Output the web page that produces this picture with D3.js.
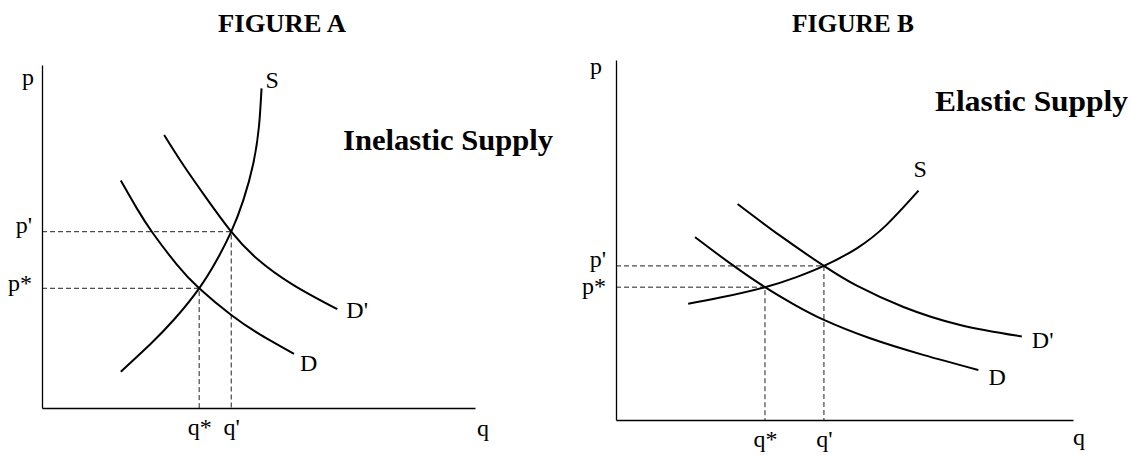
<!DOCTYPE html>
<html>
<head>
<meta charset="utf-8">
<script src="https://cdn.jsdelivr.net/npm/d3@7"></script>
<style>
  body { margin: 0; background: #fff; }
  svg text { font-family: "Liberation Serif", "Times New Roman", serif; fill: #000; }
</style>
</head>
<body>
<div id="chart"></div>
<script>
// Figure A - inelastic supply (q, p in axis units 0..100)
const supplyA  = [[18.2,10.6],[25.0,18.6],[30.5,25.8],[36.3,34.9],[40.4,43.2],[43.7,51.4],[46.5,60.6],[48.8,71.3],[50.1,82.0],[50.7,93.2]];
const demandA  = [[18.2,66.3],[21.9,58.2],[25.7,50.8],[31.1,41.9],[36.3,34.9],[43.7,27.1],[50.4,21.4],[58.2,15.8]];
const demand2A = [[28.2,79.6],[32.6,70.9],[38.0,61.1],[43.7,51.4],[49.6,43.6],[58.0,35.9],[68.2,28.8]];
const eqA = [[36.3,34.9],[43.7,51.4]];   // (q*,p*), (q',p')

// Figure B - elastic supply
const supplyB  = [[15.8,32.3],[22.8,34.0],[32.6,36.9],[39.5,39.7],[45.5,42.8],[52.7,47.7],[59.2,54.2],[66.2,63.7]];
const demandB  = [[17.3,50.8],[25.0,43.5],[32.6,36.9],[38.8,32.2],[45.5,27.8],[55.6,22.7],[67.2,18.1],[79.3,13.9]];
const demand2B = [[26.6,60.0],[35.9,51.2],[45.5,42.8],[52.7,37.3],[62.9,31.4],[75.3,26.4],[88.8,23.2]];
const eqB = [[32.6,36.9],[45.5,42.8]];

const pLabels = ["p*", "p'"];
const qLabels = ["q*", "q'"];

const width = 1131, height = 455;
const svg = d3.select("#chart").append("svg")
    .attr("width", width)
    .attr("height", height);

const panels = [
    {title: "FIGURE A", note: "Inelastic Supply", S: supplyA, D: demandA, D2: demand2A, eq: eqA,
     x: [42, 475], y: [408, 65], titleX: 282, titleW: 128, noteX: 343, noteY: 150, noteW: 210,
     pAxis: [-14, 20], qAxis: [8, 28], pDy: [2, 1],
     labs: {S: [4, 0], D: [6, 17], "D'": [9, 9]}},
    {title: "FIGURE B", note: "Elastic Supply", S: supplyB, D: demandB, D2: demand2B, eq: eqB,
     x: [616, 1073], y: [420, 60], titleX: 853, titleW: 122, noteX: 935, noteY: 111, noteW: 193,
     pAxis: [-20, 14], qAxis: [6, 25], pDy: [6, 1],
     labs: {S: [-5, -14], D: [10, 15], "D'": [10, 12]}}
];

panels.forEach(cfg => {
    const x = d3.scaleLinear().domain([0, 100]).range(cfg.x);
    const y = d3.scaleLinear().domain([0, 100]).range(cfg.y);
    const g = svg.append("g");

    g.append("text")
        .attr("x", cfg.titleX - cfg.titleW / 2).attr("y", 32)
        .attr("textLength", cfg.titleW).attr("lengthAdjust", "spacingAndGlyphs")
        .style("font-size", "25px").style("font-weight", "bold")
        .text(cfg.title);

    g.append("text")
        .attr("x", cfg.noteX).attr("y", cfg.noteY)
        .attr("textLength", cfg.noteW).attr("lengthAdjust", "spacingAndGlyphs")
        .style("font-size", "29px").style("font-weight", "bold")
        .text(cfg.note);

    // dashed guides to the equilibria
    cfg.eq.forEach(d => {
        g.append("path")
            .attr("d", `M${x(0)},${y(d[1])}H${x(d[0])}V${y(0)}`)
            .attr("fill", "none")
            .attr("stroke", "#222")
            .attr("stroke-width", 1)
            .attr("stroke-dasharray", "5,3");
    });

    // axes
    const yAxis = g.append("g")
        .attr("transform", `translate(${x(0)},0)`)
        .call(d3.axisLeft(y).tickValues(cfg.eq.map(d => d[1]))
            .tickFormat((d, i) => pLabels[i]).tickSize(0).tickSizeOuter(0).tickPadding(10));
    yAxis.selectAll("text").style("font-size", "24px")
        .attr("dy", (d, i) => cfg.pDy[i] + "px");
    const xAxis = g.append("g")
        .attr("transform", `translate(0,${y(0)})`)
        .call(d3.axisBottom(x).tickValues(cfg.eq.map(d => d[0]))
            .tickFormat((d, i) => qLabels[i]).tickSize(0).tickSizeOuter(0).tickPadding(10));
    xAxis.selectAll("text").style("font-size", "24px");
    g.selectAll(".domain").attr("stroke", "#000").attr("stroke-width", 1.3);

    g.append("text").attr("x", x(0) + cfg.pAxis[0]).attr("y", y(100) + cfg.pAxis[1])
        .attr("text-anchor", "middle").style("font-size", "24px").text("p");
    g.append("text").attr("x", x(100) + cfg.qAxis[0]).attr("y", y(0) + cfg.qAxis[1])
        .attr("text-anchor", "middle").style("font-size", "24px").text("q");

    // supply and demand curves
    const line = d3.line().x(d => x(d[0])).y(d => y(d[1])).curve(d3.curveNatural);
    [["S", cfg.S], ["D", cfg.D], ["D'", cfg.D2]].forEach(([name, pts]) => {
        g.append("path")
            .attr("d", line(pts))
            .attr("fill", "none")
            .attr("stroke", "#000")
            .attr("stroke-width", 2);
        const last = pts[pts.length - 1];
        const off = cfg.labs[name];
        g.append("text")
            .attr("x", x(last[0]) + off[0])
            .attr("y", y(last[1]) + off[1])
            .style("font-size", "24px")
            .text(name);
    });
});
</script>
</body>
</html>
